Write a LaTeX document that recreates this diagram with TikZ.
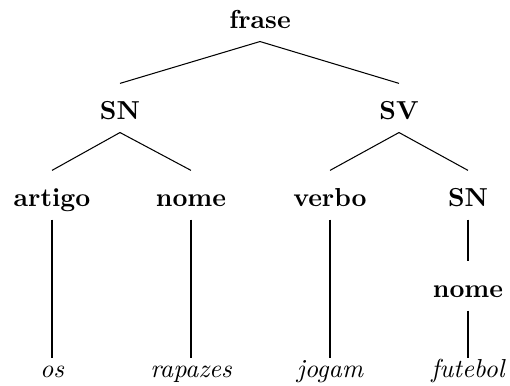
\documentclass[tikz,border=0pt]{standalone}
\begin{document}
\begin{tikzpicture}[x=0.3846pt,y=-0.3846pt,
  cat/.style={font=\bfseries, anchor=base, inner xsep=2pt, inner ysep=0pt, text height=13.5pt, text depth=5pt},
  leaf/.style={font=\itshape, anchor=base, inner xsep=2pt, inner ysep=0pt, text height=7.3pt, text depth=5pt},
  edge/.style={draw=black, line width=0.4pt}]
\useasboundingbox (0,0) rectangle (510,385);
\node[cat] (frase) at (260,28) {frase};
\node[cat] (sn1) at (120,119) {SN};
\node[cat] (sv) at (399,119) {SV};
\node[cat] (artigo) at (52,206) {artigo};
\node[cat] (nome1) at (191,206) {nome};
\node[cat] (verbo) at (330,206) {verbo};
\node[cat] (sn2) at (468,206) {SN};
\node[cat] (nome2) at (468,297) {nome};
\node[leaf] (os) at (52,377) {os};
\node[leaf] (rapazes) at (191,377) {rapazes};
\node[leaf] (jogam) at (330,377) {jogam};
\node[leaf] (futebol) at (468,377) {futebol};
\draw[edge] (frase.south) -- (sn1.north);
\draw[edge] (frase.south) -- (sv.north);
\draw[edge] (sn1.south) -- (artigo.north);
\draw[edge] (sn1.south) -- (nome1.north);
\draw[edge] (sv.south) -- (verbo.north);
\draw[edge] (sv.south) -- (sn2.north);
\draw[edge] (sn2.south) -- (nome2.north);
\draw[edge] (artigo.south) -- (os.north);
\draw[edge] (nome1.south) -- (rapazes.north);
\draw[edge] (verbo.south) -- (jogam.north);
\draw[edge] (nome2.south) -- (futebol.north);
\end{tikzpicture}
\end{document}
